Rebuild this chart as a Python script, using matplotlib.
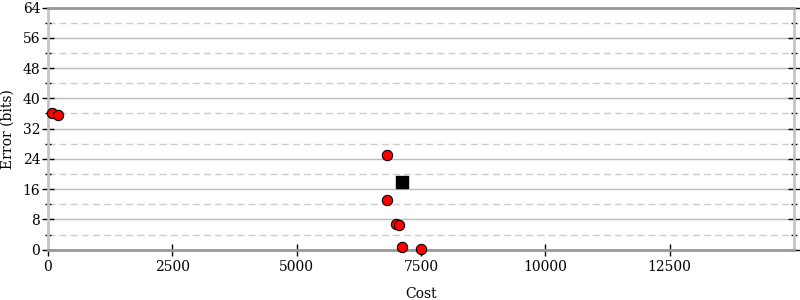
import numpy as np
import matplotlib.pyplot as plt
from matplotlib.ticker import MultipleLocator

plt.rcParams['font.family'] = 'DejaVu Serif'

# red points
cost = np.array([75, 205, 6810, 6810, 7000, 7060, 7125, 7495])
err = np.array([36.0, 35.7, 24.9, 13.0, 6.9, 6.6, 0.7, 0.25])
# black square
sq_cost = [7110]
sq_err = [17.8]

fig = plt.figure(figsize=(8, 3), dpi=100)
ax = fig.add_axes([0.06, 0.1677, 0.9325, 0.8073])

ax.set_xlim(0, 15000)
ax.set_ylim(0, 64)
ax.yaxis.set_major_locator(MultipleLocator(8))
ax.yaxis.set_minor_locator(MultipleLocator(4))
ax.set_xticks([0, 2500, 5000, 7500, 10000, 12500])

ax.grid(which='major', axis='y', color='#bbbbbb', linestyle='-', linewidth=1)
ax.grid(which='minor', axis='y', color='#cccccc', linestyle=(0, (5, 3)), linewidth=1)
ax.set_axisbelow(True)

for s in ['left', 'right']:
    ax.spines[s].set_color('#c4c4c4')
    ax.spines[s].set_linewidth(2)
for s in ['top', 'bottom']:
    ax.spines[s].set_color('#999999')
    ax.spines[s].set_linewidth(2)

ax.tick_params(axis='y', which='major', direction='inout', length=9, width=1,
               left=True, right=True, labelsize=10, pad=1)
ax.tick_params(axis='y', which='minor', direction='inout', length=5, width=1,
               left=True, right=True)
ax.tick_params(axis='x', which='major', direction='inout', length=8, width=1,
               labelsize=10, colors='black')

ax.scatter(cost, err, s=55, color='red', edgecolors='black', linewidths=0.8,
           zorder=5, clip_on=False)
ax.scatter(sq_cost, sq_err, marker='s', s=85, color='black', zorder=5)

ax.set_xlabel('Cost', fontsize=10, labelpad=9)
ax.set_ylabel('Error (bits)', fontsize=10)
ax.yaxis.set_label_coords(-0.045, 0.5)

fig.savefig('out.png')
